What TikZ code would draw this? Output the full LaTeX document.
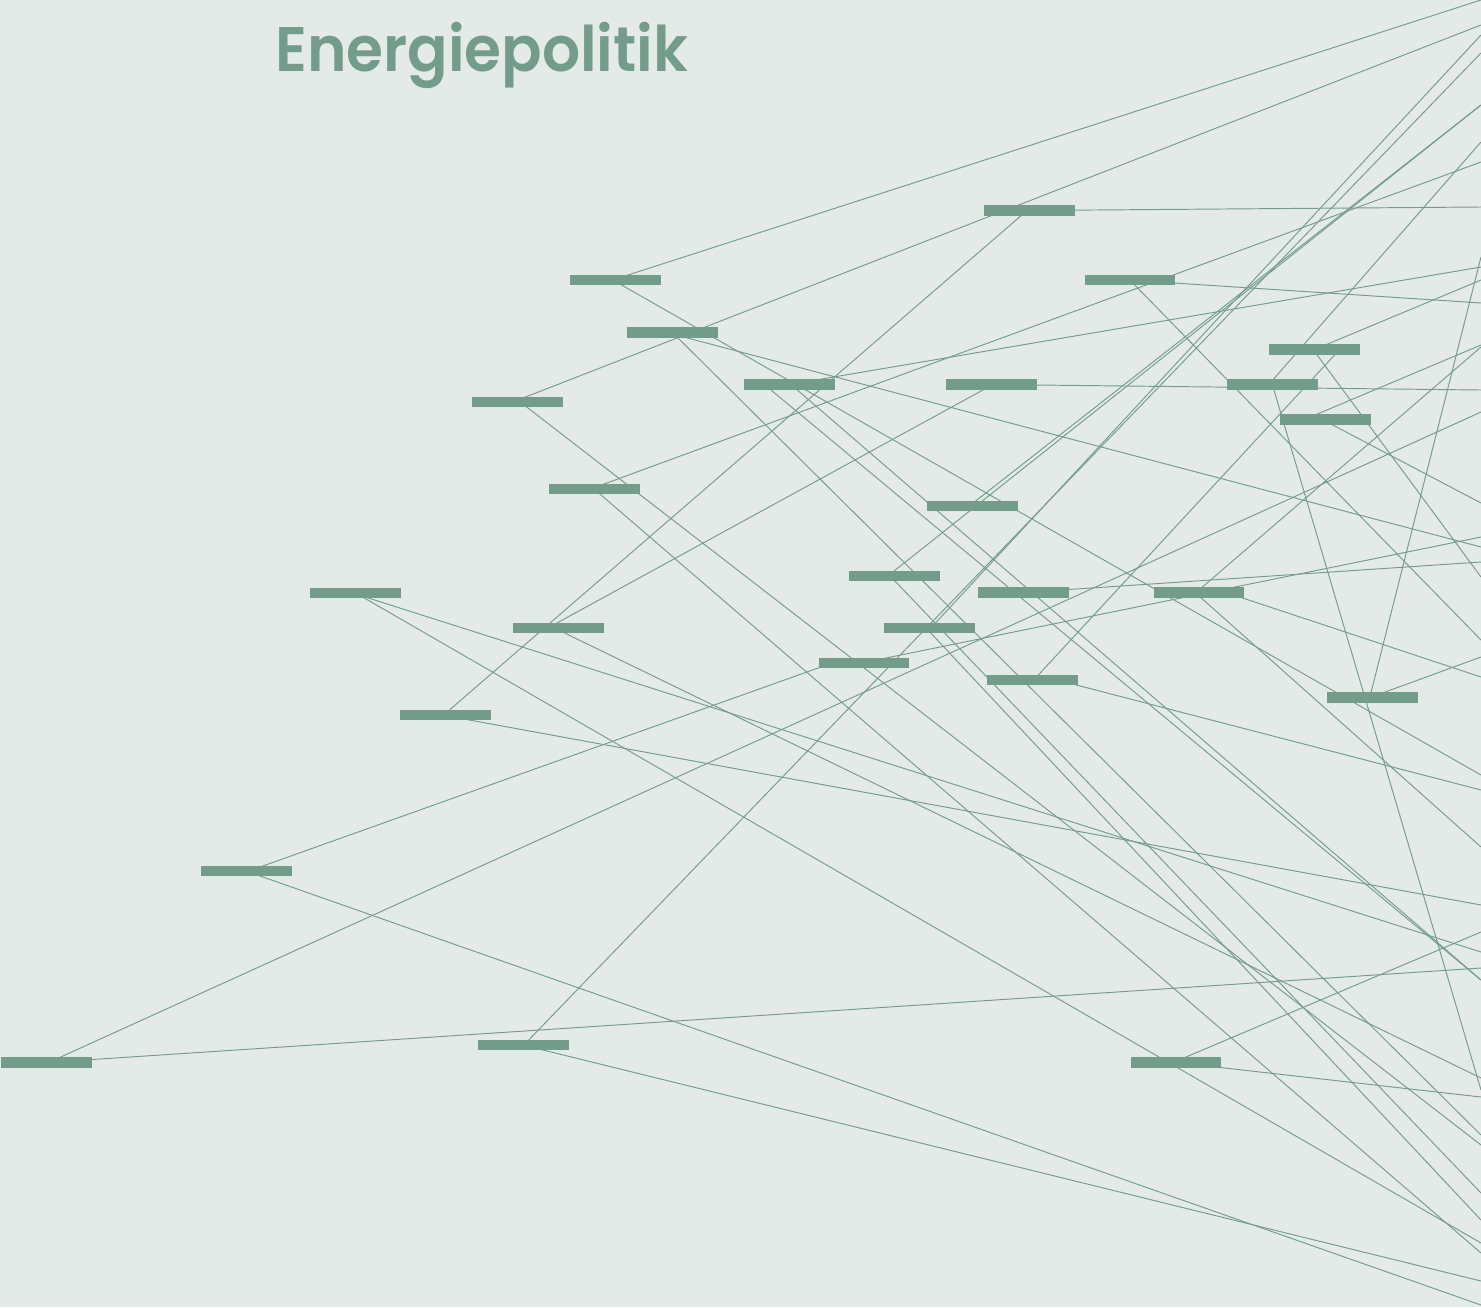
\documentclass[tikz,border=0pt]{standalone}
\usepackage{fontspec}
\usepackage{graphicx}
\newfontfamily\titlefont{Poppins SemiBold}
\usetikzlibrary{backgrounds}
\definecolor{bg}{RGB}{228,234,231}
\definecolor{ink}{RGB}{116,156,139}
\begin{document}
\begin{tikzpicture}[x=1pt,y=-1pt,
  bar/.style={fill=ink, minimum width=90.7pt, minimum height=10.3pt, inner sep=0pt, outer sep=0pt},
  link/.style={draw=ink, line width=0.95pt}]
\useasboundingbox (0,0) rectangle (1481,1307);
% title
\node[anchor=base west, inner sep=0pt, text=ink] (title) at (275,71)
  {\resizebox{413pt}{49.3pt}{\titlefont Energiepolitik}};
% bars
\node[bar] (b1)  at (1029.35,210.5) {};
\node[bar] (b2)  at (615.65,280.15) {};
\node[bar] (b3)  at (1130.05,280.15) {};
\node[bar] (b4)  at (672.35,332.35) {};
\node[bar] (b5)  at (1314.65,349.5) {};
\node[bar] (b6)  at (789.35,384.5) {};
\node[bar] (b7)  at (991.35,384.5) {};
\node[bar] (b8)  at (1272.35,384.5) {};
\node[bar] (b9)  at (517.35,401.85) {};
\node[bar] (b10) at (1325.35,419.35) {};
\node[bar] (b11) at (594.65,488.85) {};
\node[bar] (b12) at (972.65,506.15) {};
\node[bar] (b13) at (894.35,575.85) {};
\node[bar] (b14) at (355.35,593.15) {};
\node[bar] (b15) at (1023.65,592.5) {};
\node[bar] (b16) at (1199.05,592.5) {};
\node[bar] (b17) at (558.65,627.85) {};
\node[bar] (b18) at (929.65,627.85) {};
\node[bar] (b19) at (864.05,662.85) {};
\node[bar] (b20) at (1032.65,680.15) {};
\node[bar] (b21) at (1372.35,697.5) {};
\node[bar] (b22) at (445.35,714.65) {};
\node[bar] (b23) at (246.35,871.15) {};
\node[bar] (b24) at (46.65,1062.5) {};
\node[bar] (b25) at (523.35,1044.85) {};
\node[bar] (b26) at (1176.05,1062.5) {};
% free ends at the border
\coordinate (eA) at (1481,0);
\coordinate (eB) at (1481,775);
\coordinate (eC) at (1481,25);
\coordinate (eE) at (1481,207);
\coordinate (eF) at (1481,412);
\coordinate (eG) at (1481,968);
\coordinate (eH) at (1481,1305);
\coordinate (eI) at (1481,1281);
\coordinate (eJ) at (1481,53);
\coordinate (eK) at (1481,537);
\coordinate (e9) at (1481,1145);
\coordinate (e11a) at (1481,162);
\coordinate (e11b) at (1481,1253);
\coordinate (e4a) at (1481,1135);
\coordinate (e4b) at (1481,547);
\coordinate (e6a) at (1481,267);
\coordinate (e6b) at (1481,980);
\coordinate (e105) at (1481,105);
\coordinate (e18a) at (1481,35);
\coordinate (e17) at (1481,1078);
\coordinate (e14a) at (1481,952);
\coordinate (e14b) at (1481,1243);
\coordinate (e22) at (1481,905);
\coordinate (e3a) at (1481,303);
\coordinate (e3b) at (1481,640);
\coordinate (e7) at (1481,390);
\coordinate (e8a) at (1481,1090);
\coordinate (e8b) at (1481,142);
\coordinate (e21a) at (1481,257);
\coordinate (e21b) at (1481,657);
\coordinate (e16a) at (1481,347);
\coordinate (e16b) at (1481,677);
\coordinate (e16c) at (1481,847);
\coordinate (e5a) at (1481,280);
\coordinate (e5b) at (1481,577);
\coordinate (e20) at (1481,790);
\coordinate (e26a) at (1481,932);
\coordinate (e26b) at (1481,1097);
\coordinate (e13b) at (1481,1193);
\coordinate (e18b) at (1481,1220);
\coordinate (e10a) at (1481,345);
\coordinate (e10b) at (1481,503);
\coordinate (e15) at (1481,562);
\begin{pgfonlayer}{background}
\fill[bg] (0,0) rectangle (1481,1307);
\draw[link] ([xshift=-3.6pt]b2.center) -- (eA);
\draw[link] ([xshift=-2.6pt]b2.center) -- (eB);
\draw[link] ([xshift=-4.3pt]b9.center) -- (eC);
\draw[link] ([xshift=-1.3pt]b22.center) -- ([xshift=-2.3pt]b1.center);
\draw[link] (b1.center) -- (eE);
\draw[link] ([xshift=1.9pt]b24.center) -- (eF);
\draw[link] (b24.center) -- (eG);
\draw[link] (b23.center) -- (eH);
\draw[link] ([xshift=-1.3pt]b25.center) -- (eI);
\draw[link] ([xshift=0.7pt]b25.center) -- (eJ);
\draw[link] ([xshift=2pt]b23.center) -- ([xshift=-31.5pt]b19.center);
\draw[link] ([xshift=-2pt]b19.center) -- (eK);
\draw[link] ([xshift=2.7pt]b9.center) -- (e9);
\draw[link] ([xshift=-3.7pt]b11.center) -- (e11a);
\draw[link] ([xshift=-0.7pt]b11.center) -- (e11b);
\draw[link] (b4.center) -- (e4a);
\draw[link] ([xshift=-6.4pt]b4.center) -- (e4b);
\draw[link] (b6.center) -- (e6a);
\draw[link] ([xshift=1.6pt]b6.center) -- (e6b);
\draw[link] ([xshift=-25pt]b6.center) -- (e6b);
\draw[link] ([xshift=-6.4pt]b13.center) -- (e105);
\draw[link] ([xshift=-3.6pt]b12.center) -- (e105);
\draw[link] ([xshift=1.3pt]b18.center) -- (e18a);
\draw[link] ([xshift=-10.6pt]b17.center) -- ([xshift=1.6pt]b7.center);
\draw[link] ([xshift=-4.6pt]b17.center) -- (e17);
\draw[link] ([xshift=-2.3pt]b14.center) -- (e14a);
\draw[link] ([xshift=0.6pt]b14.center) -- (e14b);
\draw[link] ([xshift=-5.3pt]b22.center) -- (e22);
\draw[link] (b3.center) -- (e3a);
\draw[link] (b3.center) -- (e3b);
\draw[link] (b7.center) -- (e7);
\draw[link] (b8.center) -- (e8a);
\draw[link] ([xshift=-3.5pt]b8.center) -- (e8b);
\draw[link] ([xshift=-2.6pt]b21.center) -- (e21a);
\draw[link] ([xshift=-2.2pt]b21.center) -- (e21b);
\draw[link] ([xshift=-3pt]b16.center) -- (e16a);
\draw[link] ([xshift=27pt]b16.center) -- (e16b);
\draw[link] ([xshift=-3.9pt]b16.center) -- (e16c);
\draw[link] (b5.center) -- (e5a);
\draw[link] ([xshift=-1.6pt]b5.center) -- (e5b);
\draw[link] ([xshift=0.9pt]b20.center) -- ([xshift=25pt]b5.center);
\draw[link] ([xshift=25pt]b20.center) -- (e20);
\draw[link] ([xshift=-3pt]b26.center) -- (e26a);
\draw[link] (b26.center) -- (e26b);
\draw[link] ([xshift=-4.4pt]b13.center) -- (e13b);
\draw[link] ([xshift=-3.7pt]b18.center) -- (e18b);
\draw[link] ([xshift=-20.7pt]b10.center) -- (e10a);
\draw[link] ([xshift=-3.4pt]b10.center) -- (e10b);
\draw[link] (b15.center) -- (e15);
\end{pgfonlayer}
\end{tikzpicture}
\end{document}
